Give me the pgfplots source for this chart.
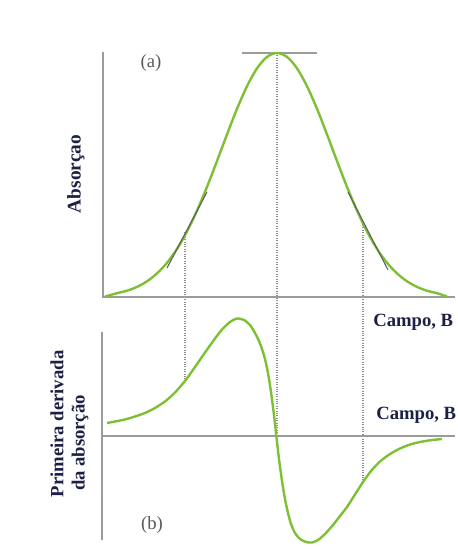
\documentclass[border=0pt]{standalone}
\usepackage{pgfplots}
\pgfplotsset{compat=1.18}
\usepackage{fontspec}
\setmainfont{Liberation Serif}
\definecolor{cgreen}{RGB}{125,192,52}
\definecolor{axgray}{RGB}{155,155,155}
\definecolor{dotgray}{RGB}{140,140,140}
\definecolor{tangray}{RGB}{95,95,95}
\definecolor{lbl}{RGB}{28,32,68}
\begin{document}
\begin{tikzpicture}
\begin{axis}[
  scale only axis, width=342.75pt, height=414.75pt,
  xmin=0, xmax=457, ymin=0, ymax=553, y dir=reverse,
  hide axis, clip=false,
]
\coordinate (bl) at (axis cs:0,553);
\coordinate (tr) at (axis cs:457,0);
% dotted guide lines
\addplot[dotgray, densely dotted, line width=0.8pt] coordinates {(185,232) (185,381)};
\addplot[dotgray, densely dotted, line width=0.8pt] coordinates {(277,53) (277,436)};
\addplot[dotgray, densely dotted, line width=0.8pt] coordinates {(363,225) (363,482)};
% top axes
\addplot[axgray, line width=1.1pt] coordinates {(103,52) (103,297) (455,297)};
% peak line
\addplot[axgray, line width=1.1pt] coordinates {(242,53) (317,53)};
% bottom axes
\addplot[axgray, line width=1.1pt] coordinates {(102,332) (102,540)};
\addplot[axgray, line width=1.1pt] coordinates {(102,436) (455,436)};
% absorption curve
\addplot[cgreen, line width=1.8pt, smooth] coordinates {
 (105,296.5) (117,293.2) (127,290.7) (137,286.9) (147,281.3) (157,273.4)
 (167,262.8) (177,248.9) (187,231.5) (197,210.6) (207,186.9) (217,161.0)
 (227,134.4) (237,108.8) (247,86.2) (257,68.3) (267,56.9) (277,53.0)
 (287,56.9) (297,68.3) (307,86.2) (317,108.8) (327,134.4) (337,161.0)
 (347,186.9) (357,210.6) (367,231.5) (377,248.9) (387,262.8) (397,273.4)
 (407,281.3) (417,286.9) (427,290.7) (437,293.2) (447,296.5)};
% tangents
\addplot[tangray, line width=0.8pt] coordinates {(167,268) (207,192)};
\addplot[tangray, line width=0.8pt] coordinates {(348,192) (388,270)};
% derivative curve
\addplot[cgreen, line width=1.8pt, smooth, tension=0.4] coordinates {
 (107,423) (115,421.5) (125,419.5) (135,416.5) (145,413) (155,408)
 (165,401.5) (175,392.5) (185,381) (195,367) (205,352.5) (215,338.5)
 (222,329.5) (230,322) (237,318.5) (244,320) (250,325) (255,333)
 (259,341) (262,349) (265,359) (268,373) (271,392) (274,415)
 (276,433) (279,459) (282,481) (285,499) (288,513) (291,524)
 (295,533) (300,539) (306,542) (312,542.5) (318,540) (325,534)
 (333,525) (340,516) (347,507) (355,494.5) (363,482) (371,471)
 (380,461.5) (390,454) (400,448.5) (410,444.5) (420,442) (430,440.3) (442,439)};
% labels
\node[inner sep=0, text=black!65, font=\fontsize{14}{14}\selectfont] at (axis cs:151,63) {(a)};
\node[inner sep=0, text=black!65, font=\fontsize{14}{14}\selectfont] at (axis cs:152,525) {(b)};
\node[inner sep=0, text=lbl, rotate=90, font=\bfseries\fontsize{14.5}{14.5}\selectfont] at (axis cs:76,174) {Absorçao};
\node[inner sep=0, text=lbl, rotate=90, font=\bfseries\fontsize{14}{14}\selectfont] at (axis cs:57,424) {Primeira derivada};
\node[inner sep=0, text=lbl, rotate=90, font=\bfseries\fontsize{14}{14}\selectfont] at (axis cs:80,443) {da absorção};
\node[inner sep=0, anchor=west, text=lbl, font=\bfseries\fontsize{14}{14}\selectfont] at (axis cs:373,322) {Campo, B};
\node[inner sep=0, anchor=west, text=lbl, font=\bfseries\fontsize{14}{14}\selectfont] at (axis cs:376,415) {Campo, B};
\end{axis}
\pgfresetboundingbox
\path (bl) rectangle (tr);
\end{tikzpicture}
\end{document}
